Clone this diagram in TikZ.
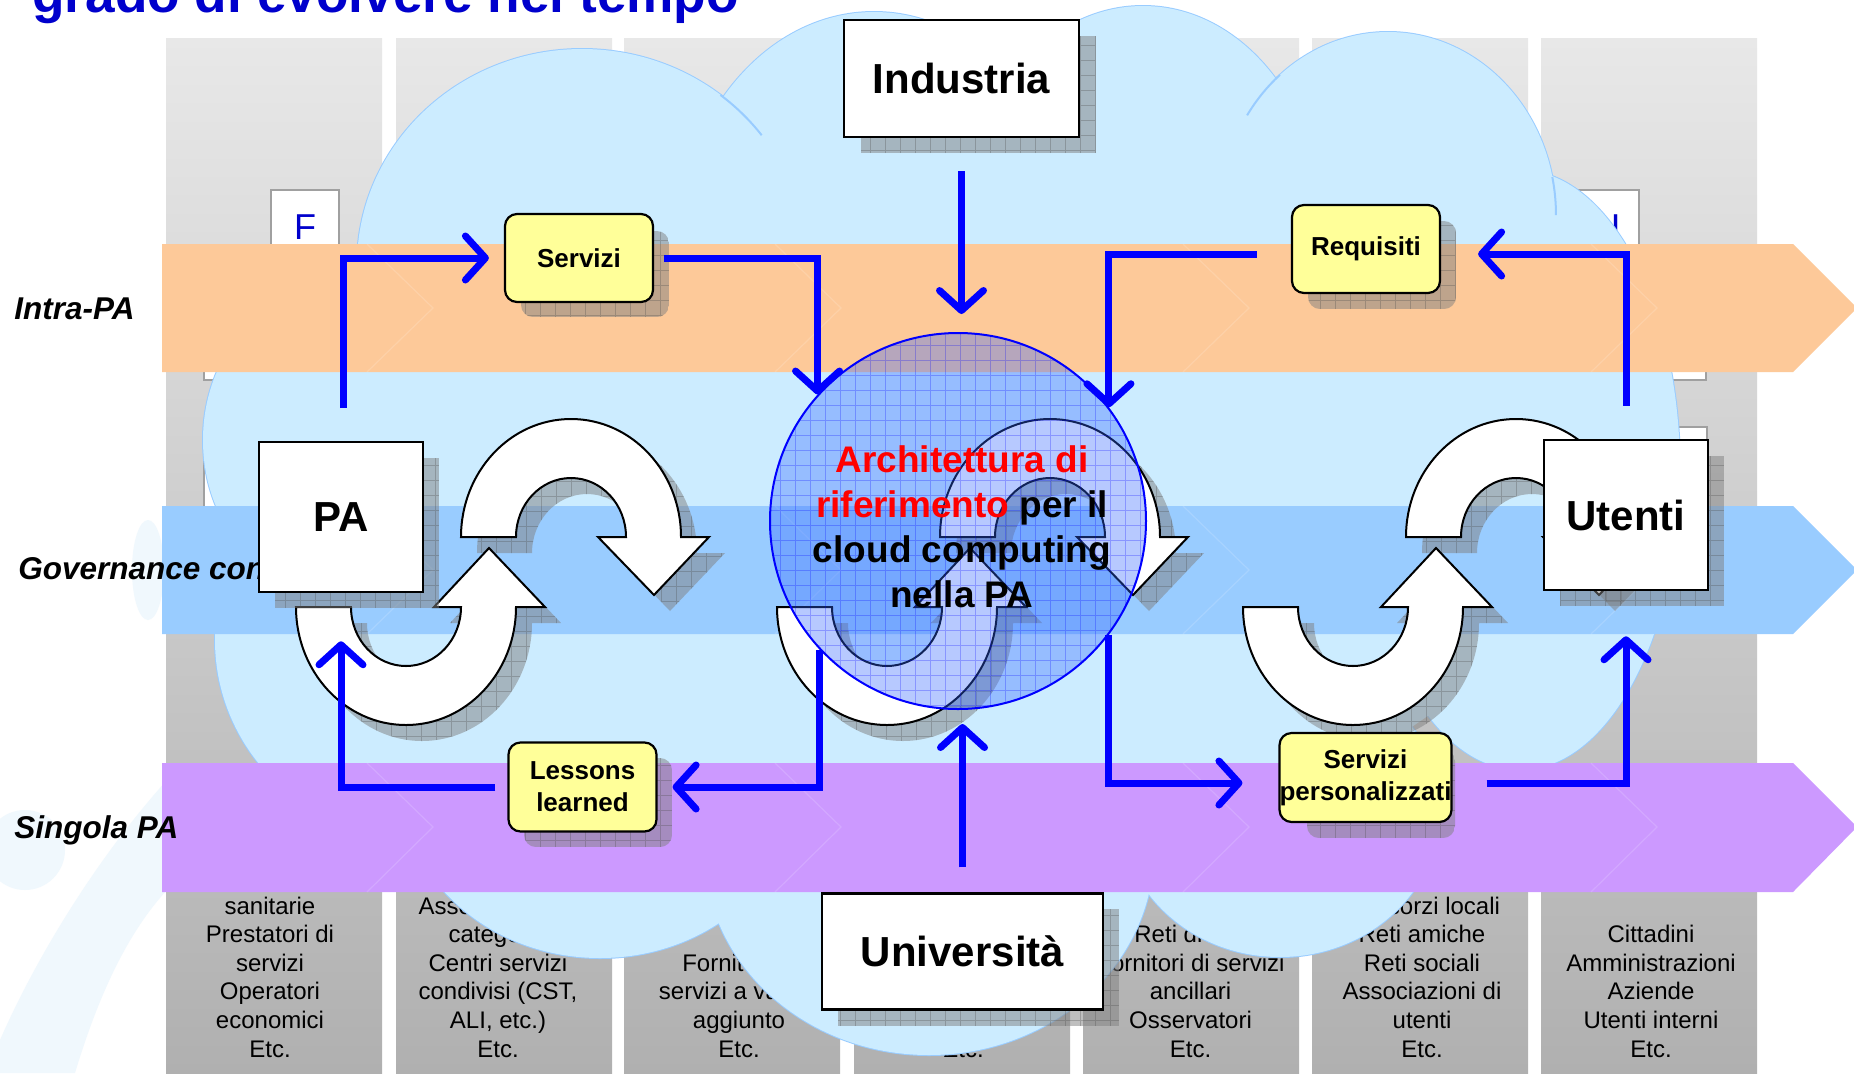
\documentclass[tikz,border=0pt]{standalone}
\usepackage{fontspec}
\setmainfont{Liberation Sans}
\usetikzlibrary{arrows.meta}
\definecolor{cloudfill}{RGB}{204,236,255}
\definecolor{cloudline}{RGB}{153,204,255}
\definecolor{bandorange}{RGB}{253,201,153}
\definecolor{bandblue}{RGB}{153,204,255}
\definecolor{bandpurple}{RGB}{204,153,255}
\definecolor{boxyellow}{RGB}{255,255,153}
\definecolor{connblue}{RGB}{0,0,255}
\definecolor{titleblue}{RGB}{0,0,204}
\definecolor{colgraytop}{RGB}{232,232,232}
\definecolor{colgraybot}{RGB}{176,176,176}
\definecolor{archfill}{RGB}{51,102,255}
\definecolor{faintblue}{RGB}{240,248,253}
\definecolor{hdrgray}{RGB}{160,160,160}

\newcommand{\ArcTop}[2]{(#1-110,#2) arc[start angle=180,end angle=360,x radius=110,y radius=118] -- (#1+138,#2) -- (#1+83,#2+58) -- (#1+27,#2) -- (#1+55,#2) arc[start angle=0,end angle=-180,x radius=55,y radius=59] -- cycle}
\newcommand{\ArcBot}[2]{(#1-110,#2) arc[start angle=180,end angle=0,x radius=110,y radius=118] -- (#1+139,#2) -- (#1+83,#2-59) -- (#1+28,#2) -- (#1+55,#2) arc[start angle=0,end angle=180,x radius=55,y radius=59] -- cycle}

\tikzset{
  shadowfill/.style={fill=black!50, fill opacity=0.5},
  gridline/.style={draw=black!70, line width=0.3pt, opacity=0.3, step=7.5pt},
  archgrid/.style={draw=connblue, line width=0.3pt, opacity=0.25, step=7.5pt},
  whitebox/.style={draw=black, line width=1.25pt, fill=white, inner sep=0pt, font=\fontsize{21pt}{25pt}\selectfont\bfseries},
  yellowbox/.style={draw=black, line width=1.1pt, fill=boxyellow, rounded corners=6pt, inner sep=0pt, minimum width=74pt, minimum height=44pt, align=center, font=\fontsize{13pt}{16pt}\selectfont\bfseries},
  conn/.style={draw=connblue, line width=3.5pt, -{Straight Barb[length=10pt,width=22pt,round]}},
  bandlabel/.style={anchor=base west, font=\fontsize{15.75pt}{18pt}\selectfont\bfseries\itshape, inner sep=0pt},
  coltext/.style={anchor=base, font=\fontsize{12pt}{14pt}\selectfont, inner sep=0pt, text=black},
  curvarrow/.style={draw=black, line width=1pt, fill=white, line join=miter},
  cloudedge/.style={draw=cloudline, line width=1pt},
  hdrbox/.style={draw=hdrgray, line width=1pt, fill=white},
  hdrletter/.style={anchor=base, inner sep=0pt, text=titleblue, font=\fontsize{18pt}{20pt}\selectfont},
  chevline/.style={draw=white, line width=0.6pt, opacity=0.15}
}

\newcommand{\GridShadow}[5]{%
  \begin{scope}
    \clip[rounded corners=#5] (#1,#2) rectangle (#3,#4);
    \fill[shadowfill] (#1,#2) rectangle (#3,#4);
    \draw[gridline] (#1,#4) grid (#3,#2);
  \end{scope}}
\newcommand{\ShadowTop}[2]{%
  \begin{scope}[shift={(16,16)}]
    \clip \ArcTop{#1}{#2};
    \fill[shadowfill] (#1-130,#2-130) rectangle (#1+150,#2+70);
    \draw[gridline] (#1-130,#2+70) grid (#1+150,#2-130);
  \end{scope}}
\newcommand{\ShadowBot}[2]{%
  \begin{scope}[shift={(16,16)}]
    \clip \ArcBot{#1}{#2};
    \fill[shadowfill] (#1-130,#2-70) rectangle (#1+150,#2+130);
    \draw[gridline] (#1-130,#2+130) grid (#1+150,#2-70);
  \end{scope}}

\begin{document}
\begin{tikzpicture}[x=0.5pt,y=-0.5pt]
\useasboundingbox (0,0) rectangle (1854,1073);
\clip (0,0) rectangle (1854,1073);
\fill[white] (0,0) rectangle (1854,1073);

% faint background swooshes
\fill[faintblue] (0,1073) -- (75,1073) .. controls (100,990) and (130,930) .. (167,890) -- (167,780) .. controls (95,860) and (35,960) .. (0,1040) -- cycle;
\fill[faintblue] (25,850) circle[radius=40];
\fill[faintblue] (148,570) ellipse[x radius=16, y radius=50];

% title
\node[anchor=base west, inner sep=0pt, text=titleblue, font=\fontsize{26.6pt}{30pt}\selectfont\bfseries] (title) at (32,12) {grado di evolvere nel tempo};

% gray columns
\foreach \xl in {166,396,624,854,1083,1312,1541}
  \shade[top color=colgraytop, bottom color=colgraybot] (\xl,38) rectangle (\xl+216,1073);

% column texts
\foreach \t [count=\k from 0] in {sanitarie, Prestatori di, servizi, Operatori, economici, Etc.}
  \node[coltext] (ca\k) at (270,914+28.6*\k) {\t};
\foreach \t [count=\k from 0] in {Associazioni di, categoria, Centri servizi, {condivisi (CST,}, {ALI, etc.)}, Etc.}
  \node[coltext] (cb\k) at (498,914+28.6*\k) {\t};
\foreach \t [count=\k from 0] in {Fornitori di, servizi a valore, aggiunto, Etc.}
  \node[coltext] (cc\k) at (739,971.2+28.6*\k) {\t};
\node[coltext] (cd0) at (963,1057) {Etc.};
\node[coltext, anchor=base west] (ce0) at (1134,942.6) {Reti di};
\foreach \t [count=\k from 0] in {Fornitori di servizi, ancillari, Osservatori, Etc.}
  \node[coltext] (ce\k x) at (1190.5,971.2+28.6*\k) {\t};
\foreach \t [count=\k from 0] in {Consorzi locali, Reti amiche, Reti sociali, Associazioni di, utenti, Etc.}
  \node[coltext] (cf\k) at (1422,914+28.6*\k) {\t};
\foreach \t [count=\k from 0] in {Cittadini, Amministrazioni, Aziende, Utenti interni, Etc.}
  \node[coltext] (cg\k) at (1651,942.6+28.6*\k) {\t};

% header boxes behind the cloud
\draw[hdrbox] (271,190) rectangle (339,300);
\node[hdrletter] (hdrF) at (305,239) {F};
\draw[hdrbox] (1575,190) rectangle (1639,300);
\node[hdrletter] (hdrU) at (1607,239) {U};
\draw[hdrbox] (204,300) rectangle (330,380);
\draw[hdrbox] (204,427) rectangle (330,540);
\draw[hdrbox] (1580,300) rectangle (1706,380);
\draw[hdrbox] (1580,427) rectangle (1707,560);

% cloud
\foreach \cx/\cy/\rx/\ry in {582/265/225/216, 874/260/200/248, 1143/230/180/224, 1388/215/168/183, 1520/470/160/300, 1280/810/160/147, 929/850/225/205, 600/780/200/178, 420/640/205/200, 330/440/127/150}
  \draw[cloudedge] (\cx,\cy) ellipse[x radius=\rx, y radius=\ry];
\foreach \cx/\cy/\rx/\ry in {582/265/225/216, 874/260/200/248, 1143/230/180/224, 1388/215/168/183, 1520/470/160/300, 1280/810/160/147, 929/850/225/205, 600/780/200/178, 420/640/205/200, 330/440/127/150, 950/480/620/370}
  \fill[cloudfill] (\cx,\cy) ellipse[x radius=\rx, y radius=\ry];
\draw[cloudedge] (720.5,95) arc[start angle=-52, end angle=-37, x radius=225, y radius=216];
\draw[cloudedge] (1280,74.8) arc[start angle=230, end angle=213, x radius=168, y radius=183];
\draw[cloudedge] (1552.3,177) arc[start angle=-12, end angle=0, x radius=168, y radius=183];

% bands
\fill[bandorange] (162,244) -- (1793,244) -- (1857,308) -- (1793,372) -- (162,372) -- cycle;
\fill[bandblue] (162,506) -- (1793,506) -- (1857,570) -- (1793,634) -- (162,634) -- cycle;
\fill[bandpurple] (162,763) -- (1793,763) -- (1857,827) -- (1793,892) -- (162,892) -- cycle;
\foreach \n in {367,775,1183,1591} {
  \draw[chevline] (\n,244) -- (\n+66,308) -- (\n,372);
  \draw[chevline] (\n,506) -- (\n+66,570) -- (\n,634);
  \draw[chevline] (\n,763) -- (\n+66,827) -- (\n,892);
}

% band labels
\node[bandlabel] (lblintra) at (14,319) {Intra-PA};
\node[bandlabel] (lblgov) at (18,579) {Governance condivisa};
\node[bandlabel] (lblsing) at (14,838) {Singola PA};

% curved arrows: shadows then shapes
\ShadowTop{571}{537}\ShadowBot{406}{607}
\ShadowTop{1050}{537}\ShadowBot{887}{607}
\ShadowTop{1516}{537}\ShadowBot{1353}{607}
\path[curvarrow] \ArcTop{571}{537};
\path[curvarrow] \ArcBot{406}{607};
\path[curvarrow] \ArcTop{1050}{537};
\path[curvarrow] \ArcBot{887}{607};
\path[curvarrow] \ArcTop{1516}{537};
\path[curvarrow] \ArcBot{1353}{607};

% central circle
\fill[archfill, fill opacity=0.35] (958,521) circle[radius=188];
\begin{scope}
  \clip (958,521) circle[radius=188];
  \draw[archgrid] (770,709) grid (1146,333);
\end{scope}
\node[circle, draw=connblue, line width=1pt, minimum size=188pt, inner sep=0pt] (arch) at (958,521) {};
\node[align=center, inner sep=0pt, font=\fontsize{18.5pt}{22.5pt}\selectfont\bfseries] (archlabel) at (962,526.5) {\textcolor{red}{Architettura di}\\\textcolor{red}{riferimento} per il\\cloud computing\\nella PA};

% box shadows
\GridShadow{861}{36}{1096}{153}{0pt}
\GridShadow{275}{458}{439}{608}{0pt}
\GridShadow{1560}{456}{1724}{606}{0pt}
\GridShadow{838}{909}{1119}{1026}{0pt}
\GridShadow{521}{231}{669}{317}{6pt}
\GridShadow{1308}{221}{1456}{309}{6pt}
\GridShadow{524}{758}{672}{847}{6pt}
\GridShadow{1307}{749}{1455}{838}{6pt}

% boxes
\node[whitebox, minimum width=117.5pt, minimum height=58.5pt] (industria) at (961.5,78.5) {Industria};
\node[whitebox, minimum width=82pt, minimum height=75pt] (pa) at (341,517) {PA};
\node[whitebox, minimum width=82pt, minimum height=75pt] (utenti) at (1626,515) {Utenti};
\node[whitebox, minimum width=140.5pt, minimum height=58pt] (univ) at (962.5,951.5) {Università};
\node[yellowbox] (servizi) at (579,258) {Servizi};
\node[yellowbox] (requisiti) at (1366,249) {Requisiti};
\node[yellowbox, minimum height=44.5pt] (lessons) at (582.5,787) {Lessons\\learned};
\node[yellowbox, minimum height=44.5pt] (servpers) at (1365.5,777.5) {Servizi\\personalizzati};

% connectors
\coordinate (paout) at (343,408);
\draw[conn, shorten >=7.5pt] (paout) |- (servizi.west);
\draw[conn, shorten <=5pt] (servizi.east) -| (arch.138.6);
\draw[conn, shorten <=16.5pt, shorten >=9pt] (industria.south) -- (industria.south |- arch.north);
\draw[conn, shorten <=17pt] ([yshift=-2.5pt]requisiti.west) -| (arch.37.5);
\draw[conn, shorten <=16.5pt, shorten >=18.5pt] (utenti.north) |- ([yshift=-2.5pt]requisiti.east);
\draw[conn, shorten <=12.5pt, shorten >=7pt] (univ.north) -- (univ.north |- arch.south);
\draw[conn, shorten >=7.5pt] (arch.223) |- (lessons.east);
\draw[conn, shorten <=6pt, shorten >=24pt] (lessons.west) -| (pa.south);
\draw[conn, shorten >=18pt] (arch.-37.5) |- ([yshift=-2.75pt]servpers.west);
\draw[conn, shorten <=17pt, shorten >=22.5pt] ([yshift=-2.75pt]servpers.east) -| (utenti.south);
\end{tikzpicture}
\end{document}
